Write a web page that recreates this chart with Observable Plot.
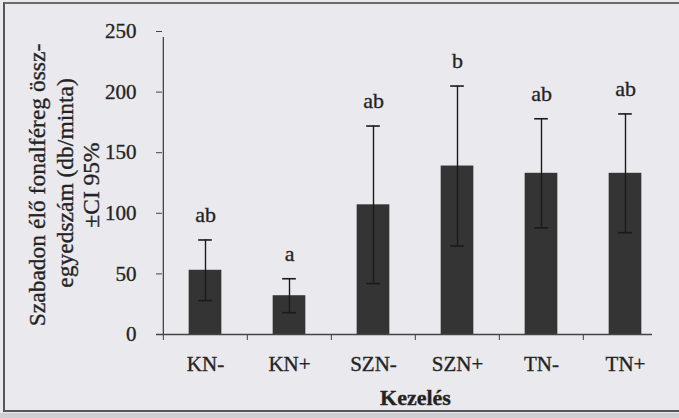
<!DOCTYPE html>
<html>
<head>
<meta charset="utf-8">
<script src="https://cdn.jsdelivr.net/npm/d3@7"></script>
<script src="https://cdn.jsdelivr.net/npm/@observablehq/plot@0.6"></script>
<style>
  html, body { margin: 0; padding: 0; background: #eae9ed; }
  #wrap { position: relative; width: 679px; height: 418px; overflow: hidden; }
  #frame { position: absolute; left: 3px; top: 2px; width: 690px; height: 410px;
           border-left: 2px solid #555; border-top: 2px solid #6d6d5e; border-bottom: 2px solid #555; box-sizing: border-box; pointer-events: none; z-index: 2; }
  #bottomstrip { position: absolute; left: 0; top: 413px; width: 679px; height: 5px; background: #cfcfd3; }
  #wrap svg text { stroke: #2a2a2a; stroke-width: 0.35px; }
</style>
</head>
<body>
<div id="wrap"><div id="bottomstrip"></div><div id="frame"></div></div>
<script>
const categories = ["KN-", "KN+", "SZN-", "SZN+", "TN-", "TN+"];
const means = [53, 32, 107, 139, 133, 133];
const ci = [25, 14, 65, 66, 45, 49];
const letters = ["ab", "a", "ab", "b", "ab", "ab"];
const yTicks = [0, 50, 100, 150, 200, 250];
const yTitleLines = ["Szabadon élő fonalféreg össz-", "egyedszám (db/minta)", "±CI 95%"];
const xTitle = "Kezelés";

const data = categories.map((c, i) => ({
  cat: c, mean: means[i], lo: means[i] - ci[i], hi: means[i] + ci[i], letter: letters[i]
}));

const W = 679, H = 418;
const mL = 162, mR = 11, mT = 31, mB = 84;
const step = (W - mL - mR) / categories.length;
const barW = 33, capW = 14;
const font = "'Liberation Serif', 'Times New Roman', serif";
const ink = "#222";

const chart = Plot.plot({
  width: W, height: H,
  marginLeft: mL, marginRight: mR, marginTop: mT, marginBottom: mB,
  style: { background: "transparent", fontFamily: font, color: ink, overflow: "visible" },
  x: { type: "band", domain: categories, padding: 0, label: null },
  y: { domain: [0, 250], label: null },
  marks: [
    Plot.barY(data, { x: "cat", y: "mean", fill: "#343434", insetLeft: (step - barW) / 2, insetRight: (step - barW) / 2 }),
    Plot.ruleX(data, { x: "cat", y1: "lo", y2: "hi", stroke: "#1a1a1a", strokeWidth: 1.4 }),
    Plot.tickY(data, { x: "cat", y: "hi", stroke: "#1a1a1a", strokeWidth: 1.6, insetLeft: (step - capW) / 2, insetRight: (step - capW) / 2 }),
    Plot.tickY(data, { x: "cat", y: "lo", stroke: "#1a1a1a", strokeWidth: 1.6, insetLeft: (step - capW) / 2, insetRight: (step - capW) / 2 }),
    Plot.text(data, { x: "cat", y: "hi", text: "letter", dy: -25, fontSize: 22, fill: ink }),
    Plot.ruleY([0], { stroke: "#444", strokeWidth: 1.3, insetLeft: -6, insetRight: 16 }),
    Plot.ruleX([categories[0]], { x: d => d, y1: yTicks[0], y2: yTicks[yTicks.length - 1], dx: -step / 2, stroke: "#444", strokeWidth: 1.3, insetBottom: -6 }),
    Plot.axisY({ ticks: yTicks, tickSize: 6, tickPadding: 20, fontSize: 21, stroke: "#444", color: ink, label: null }),
    Plot.axisX({ tickSize: 6, tickFormat: () => "", dx: -step / 2, stroke: "#444", label: null }),
    Plot.axisX({ tickSize: 0, tickPadding: 22, fontSize: 21, color: ink, label: null }),
    Plot.text([xTitle], { frameAnchor: "bottom", dy: 70, fontSize: 22, fontWeight: "bold", fill: ink }),
    Plot.text([yTitleLines[0]], { frameAnchor: "left", textAnchor: "middle", dx: -125, dy: 2, rotate: -90, fontSize: 23.5, fill: ink }),
    Plot.text([yTitleLines[1]], { frameAnchor: "left", textAnchor: "middle", dx: -97, dy: 0, rotate: -90, fontSize: 23.5, fill: ink }),
    Plot.text([yTitleLines[2]], { frameAnchor: "left", textAnchor: "middle", dx: -71, dy: 2, rotate: -90, fontSize: 23.5, fill: ink })
  ]
});
chart.style.position = "absolute";
chart.style.left = "0px";
chart.style.top = "0px";
document.getElementById("wrap").appendChild(chart);
</script>
</body>
</html>
